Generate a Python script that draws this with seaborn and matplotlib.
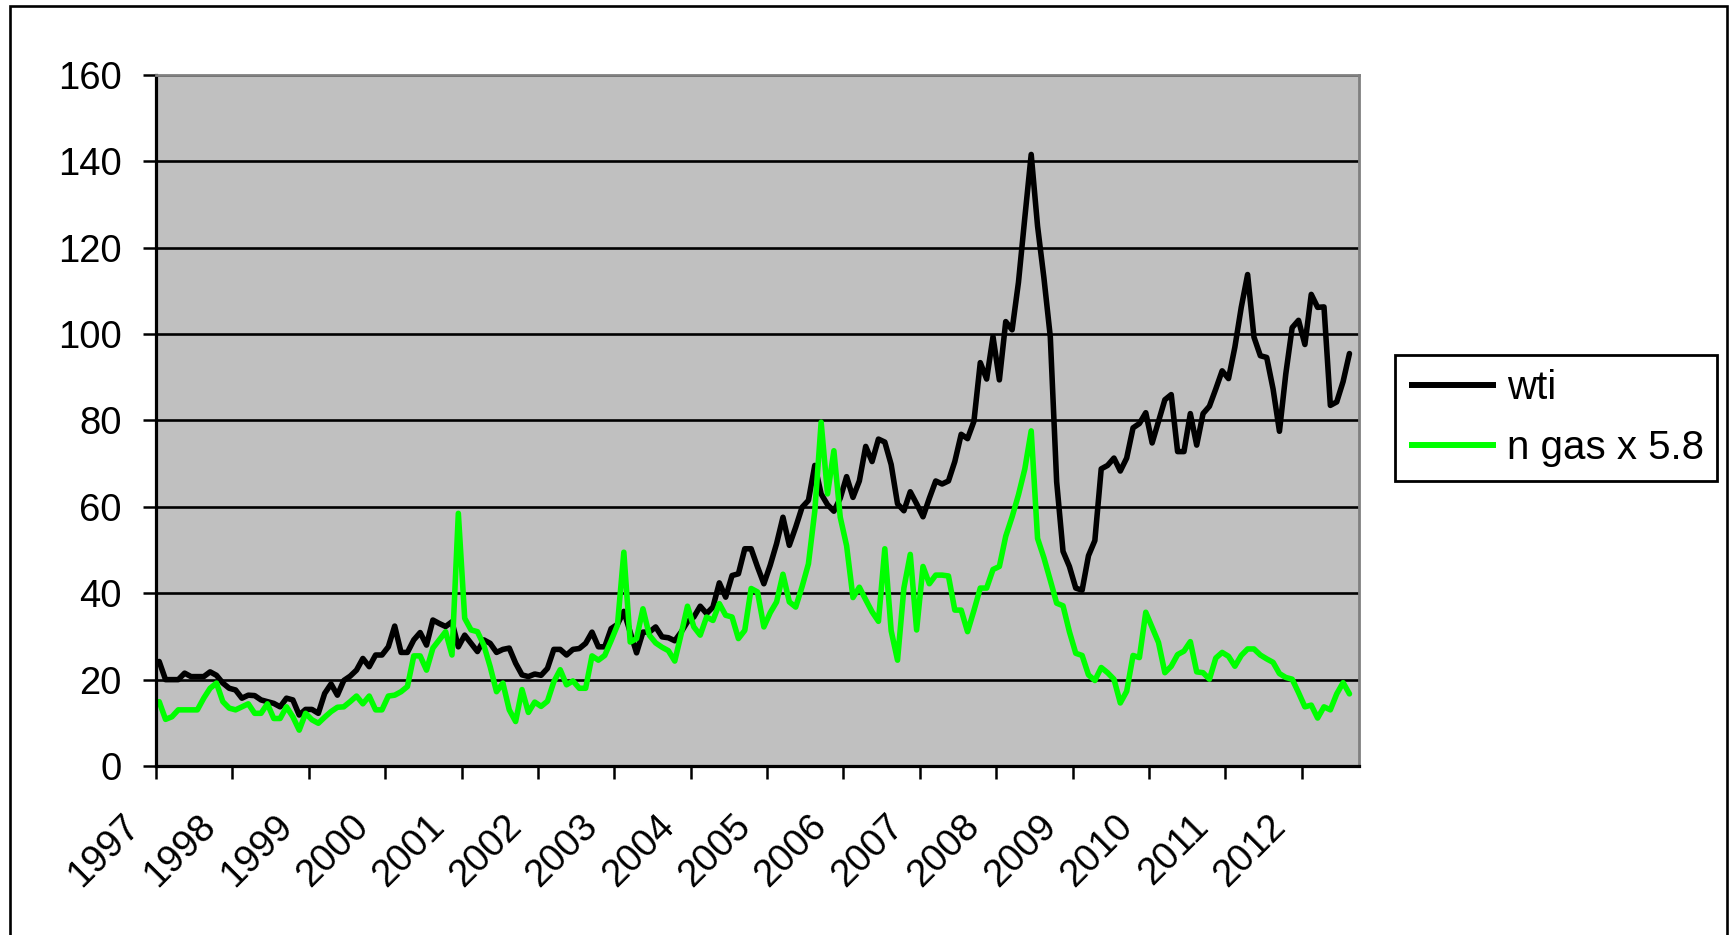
import numpy as np
import pandas as pd
import matplotlib
matplotlib.use("Agg")
import matplotlib.pyplot as plt
import matplotlib.transforms as mtransforms
from matplotlib.patches import Rectangle
from matplotlib.lines import Line2D
import seaborn as sns

# ---------------- data (month-end values, Jan 1997 .. Aug 2012) ----------------
months = pd.date_range("1997-01-01", "2012-08-01", freq="MS")

wti = [
    24.2, 20.0, 20.0, 20.0, 21.5, 20.7, 20.7, 20.7, 21.8, 21.0, 19.2, 18.0,   # 1997
    17.6, 15.7, 16.4, 16.3, 15.3, 14.9, 14.5, 13.7, 15.7, 15.3, 11.8, 13.1,   # 1998
    13.1, 12.2, 16.8, 19.0, 16.4, 19.8, 20.8, 22.2, 24.9, 23.0, 25.7, 25.7,   # 1999
    27.6, 32.4, 26.3, 26.3, 29.2, 30.9, 28.0, 33.8, 33.0, 32.3, 33.4, 27.6,   # 2000
    30.3, 28.4, 26.5, 29.2, 28.4, 26.3, 27.0, 27.3, 23.8, 21.1, 20.7, 21.3,   # 2001
    21.0, 22.6, 27.0, 27.0, 25.7, 27.0, 27.2, 28.4, 31.0, 27.6, 27.6, 31.8,   # 2002
    32.8, 35.8, 31.0, 26.2, 31.0, 31.0, 32.2, 29.9, 29.7, 29.0, 31.0, 33.4,   # 2003
    34.5, 37.0, 35.3, 36.8, 42.4, 39.1, 44.1, 44.5, 50.3, 50.3, 46.1, 42.2,   # 2004
    46.5, 51.5, 57.6, 51.1, 55.3, 59.9, 61.5, 69.6, 63.0, 60.5, 59.0, 62.0,   # 2005
    67.0, 62.2, 66.0, 74.0, 70.5, 75.7, 75.0, 69.8, 60.7, 59.1, 63.5, 60.7,   # 2006
    57.7, 62.0, 66.0, 65.3, 66.0, 70.5, 76.8, 75.8, 79.8, 93.4, 89.6, 99.4,   # 2007
    89.4, 102.9, 101.0, 112.0, 127.0, 141.6, 125.0, 113.0, 99.4, 65.8, 49.7, 46.2,  # 2008
    41.2, 40.7, 48.7, 52.2, 68.8, 69.6, 71.3, 68.3, 71.3, 78.3, 79.3, 81.8,   # 2009
    74.8, 79.8, 84.8, 86.0, 72.8, 72.8, 81.6, 74.3, 81.6, 83.3, 87.3, 91.5,   # 2010
    89.7, 97.0, 106.2, 113.8, 99.3, 95.0, 94.6, 87.3, 77.5, 90.8, 101.5, 103.2,  # 2011
    97.6, 109.2, 106.2, 106.3, 83.5, 84.3, 89.0, 95.5,                         # 2012
]

ngas = [
    14.9, 10.8, 11.4, 13.0, 13.0, 13.0, 13.0, 15.7, 18.0, 19.2, 14.9, 13.4,   # 1997
    13.0, 13.7, 14.4, 12.2, 12.2, 14.4, 11.0, 11.0, 13.7, 11.4, 8.3, 12.2,    # 1998
    10.7, 9.9, 11.3, 12.6, 13.6, 13.7, 14.9, 16.2, 14.4, 16.2, 13.0, 13.0,    # 1999
    16.2, 16.4, 17.2, 18.4, 25.5, 25.5, 22.2, 27.3, 29.2, 31.1, 25.7, 58.5,   # 2000
    34.2, 31.5, 31.1, 28.0, 23.0, 17.2, 19.2, 13.0, 10.3, 17.7, 12.4, 14.8,   # 2001
    13.8, 15.0, 19.5, 22.3, 18.8, 19.7, 18.0, 18.0, 25.5, 24.5, 25.6, 29.0,   # 2002
    32.6, 49.5, 28.7, 29.5, 36.4, 30.3, 28.5, 27.5, 26.7, 24.3, 30.5, 37.0,   # 2003
    32.2, 30.3, 34.5, 33.7, 37.6, 34.9, 34.5, 29.5, 31.4, 41.1, 40.3, 32.2,   # 2004
    35.5, 38.0, 44.4, 38.0, 36.8, 41.5, 46.8, 59.0, 79.6, 63.0, 73.0, 57.6,   # 2005
    51.0, 39.0, 41.4, 38.5, 35.7, 33.5, 50.3, 31.3, 24.5, 41.2, 49.0, 31.5,   # 2006
    46.2, 42.2, 44.2, 44.2, 44.0, 36.1, 36.1, 31.1, 36.0, 41.2, 41.2, 45.5,   # 2007
    46.2, 53.2, 57.7, 62.8, 68.8, 77.6, 52.7, 48.2, 43.0, 37.7, 37.1, 31.1,   # 2008
    26.1, 25.6, 21.1, 19.8, 22.8, 21.6, 20.1, 14.6, 17.3, 25.6, 25.1, 35.6,   # 2009
    32.1, 28.6, 21.6, 23.1, 25.8, 26.6, 28.8, 21.8, 21.6, 20.1, 25.0, 26.3,   # 2010
    25.4, 23.1, 25.6, 27.1, 27.1, 25.7, 24.8, 24.0, 21.4, 20.5, 20.1, 17.0,   # 2011
    13.7, 14.1, 11.1, 13.7, 13.0, 16.7, 19.3, 16.7,                           # 2012
]

series_names = ["wti", "n gas x 5.8"]
series_colors = ["#000000", "#00FF00"]
year_labels = [str(y) for y in range(1997, 2013)]
y_ticks = list(range(0, 161, 20))

# --------------- long table for seaborn ----------------
n_cat = len(months) + 1          # category axis has one trailing empty slot
pos = np.arange(len(months)) + 0.5
df = pd.DataFrame({
    "pos": np.concatenate([pos, pos]),
    "value": np.concatenate([wti, ngas]),
    "series": [series_names[0]] * len(wti) + [series_names[1]] * len(ngas),
})

# --------------- figure ----------------
W, H = 1735, 935
fig = plt.figure(figsize=(W / 100, H / 100), dpi=100)
plt.rcParams["font.family"] = ["Liberation Sans", "DejaVu Sans"]

L, R, T, B = 156, 1359, 75, 766
ax = fig.add_axes([L / W, 1 - B / H, (R - L) / W, (B - T) / H])
ax.set_facecolor("#C0C0C0")

sns.lineplot(data=df, x="pos", y="value", hue="series", hue_order=series_names,
             palette=series_colors, estimator=None, sort=False,
             ax=ax, legend=False)
for ln in ax.get_lines():
    ln.set_linewidth(4.0)
    ln.set_solid_joinstyle("round")
    ln.set_solid_capstyle("round")

ax.set_xlim(0, n_cat)
ax.set_ylim(0, 160)
ax.set_xlabel("")
ax.set_ylabel("")

ax.set_yticks(y_ticks)
ax.set_yticklabels([str(v) for v in y_ticks])
ax.set_xticks(np.arange(0, 12 * len(year_labels), 12))
ax.set_xticklabels(year_labels)

ax.set_axisbelow(True)
ax.yaxis.grid(True, color="black", linewidth=1.9)
ax.xaxis.grid(False)

for side in ["left", "bottom"]:
    ax.spines[side].set_color("black")
    ax.spines[side].set_linewidth(2.3)
for side in ["top", "right"]:
    ax.spines[side].set_color("#808080")
    ax.spines[side].set_linewidth(2.0)

ax.tick_params(axis="y", direction="out", length=9.5, width=1.8, pad=15,
               labelsize=27.5, colors="black", right=False)
ax.tick_params(axis="x", direction="out", length=9.5, width=1.8, pad=30,
               labelsize=27.5, colors="black", top=False)

offset = mtransforms.ScaledTranslation(-22 / 100, 0, fig.dpi_scale_trans)
for lbl in ax.get_xticklabels():
    lbl.set_rotation(45)
    lbl.set_ha("right")
    lbl.set_va("center")
    lbl.set_rotation_mode("anchor")
    lbl.set_transform(lbl.get_transform() + offset)

# --------------- legend ----------------
handles = [Line2D([0], [0], color=c, lw=4.3, solid_capstyle="butt") for c in series_colors]
leg = fig.legend(handles, series_names, loc="upper left",
                 bbox_to_anchor=(1395 / W, 1 - 355 / H), bbox_transform=fig.transFigure,
                 borderaxespad=0, frameon=True, fancybox=False, shadow=False,
                 fontsize=29, handlelength=2.16, handletextpad=0.27,
                 borderpad=0.34, labelspacing=0.55)
fr = leg.get_frame()
fr.set_edgecolor("black")
fr.set_facecolor("white")
fr.set_linewidth(2.0)
fr.set_alpha(1)

# --------------- outer frame ----------------
fig.patches.append(Rectangle((10 / W, -0.02), (1727 - 10) / W, 1 - 6 / H + 0.02,
                             transform=fig.transFigure, fill=False,
                             edgecolor="black", linewidth=1.9, clip_on=False))

fig.savefig("out.png", dpi=100, facecolor="white")
